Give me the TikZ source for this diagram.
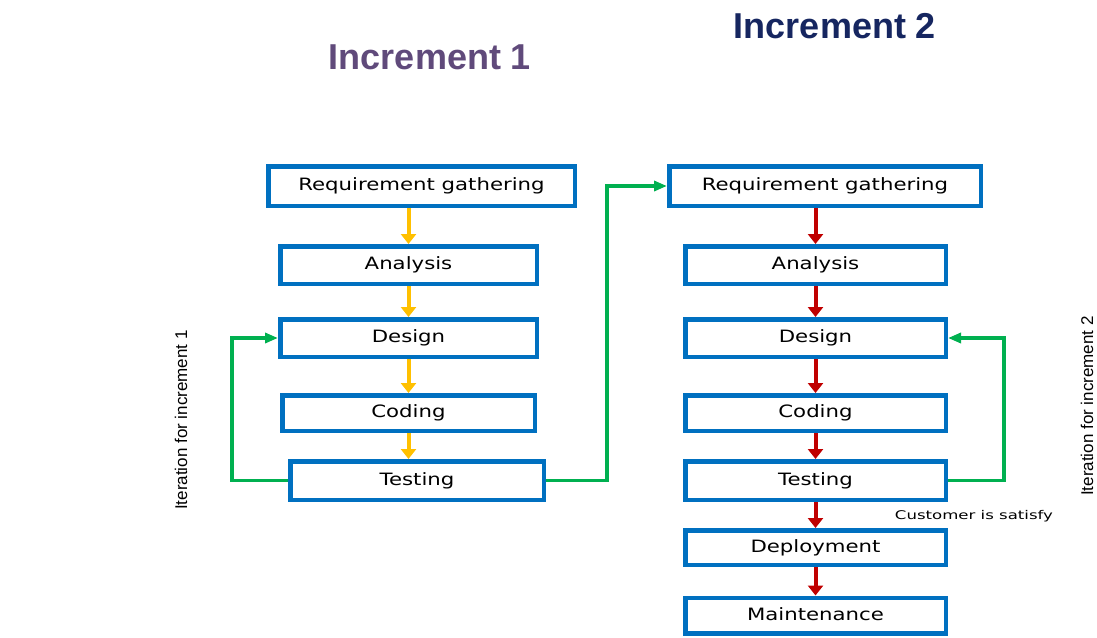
\documentclass[tikz,border=0pt]{standalone}
\usepackage{fontspec}
\setmainfont{Liberation Sans}
\newfontfamily\boxfont{DejaVu Sans}
\usetikzlibrary{arrows.meta}
\definecolor{boxblue}{RGB}{0,112,192}
\definecolor{arryellow}{RGB}{255,192,0}
\definecolor{arrred}{RGB}{192,0,0}
\definecolor{loopgreen}{RGB}{0,176,80}
\definecolor{titlepurple}{RGB}{96,74,123}
\definecolor{titlenavy}{RGB}{22,38,96}
\newcommand{\bxt}[1]{\scalebox{1.25}[1]{#1}}
\begin{document}
\begin{tikzpicture}[x=1pt,y=-1pt,
  stage/.style={draw=boxblue, line width=4.5pt, fill=white, inner sep=0pt,
    font=\boxfont\fontsize{17}{20}\selectfont, text height=12.4pt, text depth=3pt},
  yarrow/.style={draw=arryellow, line width=4pt, -{Triangle[width=15pt,length=10pt]}},
  rarrow/.style={draw=arrred, line width=4pt, -{Triangle[width=15pt,length=10pt]}},
  garrow/.style={draw=loopgreen, line width=3.5pt, -{Triangle[width=10pt,length=13pt]}},
  title/.style={font=\bfseries\fontsize{36}{40}\selectfont, inner sep=0pt},
  sidelabel/.style={rotate=90, font=\fontsize{17}{20}\selectfont, inner sep=0pt}
]
\useasboundingbox (0,0) rectangle (1097,637);
\fill[white] (0,0) rectangle (1097,637);

% titles
\node[title, text=titlepurple] (t1) at (430,57) {Increment 1};
\node[title, text=titlenavy] (t2) at (835,26) {Increment 2};

% increment 1
\node[stage, minimum width=306.5pt, minimum height=39.5pt] (req1) at (421.5,186) {\bxt{Requirement gathering}};
\node[stage, minimum width=256.5pt, minimum height=37.5pt] (ana1) at (408.5,265) {\bxt{Analysis}};
\node[stage, minimum width=256.5pt, minimum height=37.5pt] (des1) at (408.5,338) {\bxt{Design}};
\node[stage, minimum width=252.5pt, minimum height=35.5pt] (cod1) at (408.5,413) {\bxt{Coding}};
\node[stage, minimum width=253.5pt, minimum height=38.5pt] (tes1) at (417,480.5) {\bxt{Testing}};

\draw[yarrow] (ana1.north |- req1.south) -- (ana1.north);
\draw[yarrow] (ana1.south) -- (des1.north);
\draw[yarrow] (des1.south) -- (cod1.north);
\draw[yarrow] (cod1.south) -- (cod1.south |- tes1.north);

% increment 2
\node[stage, minimum width=311.5pt, minimum height=39.5pt] (req2) at (825,186) {\bxt{Requirement gathering}};
\node[stage, minimum width=260.5pt, minimum height=37.5pt] (ana2) at (815.5,265) {\bxt{Analysis}};
\node[stage, minimum width=260.5pt, minimum height=37.5pt] (des2) at (815.5,338) {\bxt{Design}};
\node[stage, minimum width=260.5pt, minimum height=35.5pt] (cod2) at (815.5,413) {\bxt{Coding}};
\node[stage, minimum width=260.5pt, minimum height=38.5pt] (tes2) at (815.5,480.5) {\bxt{Testing}};
\node[stage, minimum width=260.5pt, minimum height=34.5pt] (dep) at (815.5,547.5) {\bxt{Deployment}};
\node[stage, minimum width=260.5pt, minimum height=35.5pt] (mai) at (815.5,615.5) {\bxt{Maintenance}};

\draw[rarrow] (ana2.north |- req2.south) -- (ana2.north);
\draw[rarrow] (ana2.south) -- (des2.north);
\draw[rarrow] (des2.south) -- (cod2.north);
\draw[rarrow] (cod2.south) -- (tes2.north);
\draw[rarrow] (tes2.south) -- (dep.north);
\draw[rarrow] (dep.south) -- (mai.north);

% loops
\draw[garrow] (tes1.west) -- ([xshift=-56pt]tes1.west) |- (des1.west);
\draw[garrow] (tes1.east) -- ([xshift=61pt]tes1.east) |- (req2.west);
\draw[garrow] (tes2.east) -- ([xshift=56pt]tes2.east) |- (des2.east);

% labels
\node[fill=white, inner xsep=4pt, inner ysep=3pt, font=\boxfont\fontsize{12}{14}\selectfont] (cust) at (974,516) {\scalebox{1.38}[1]{Customer is satisfy}};
\node[sidelabel] (it1) at (181,420) {Iteration for increment 1};
\node[sidelabel] (it2) at (1087,406) {Iteration for increment 2};
\end{tikzpicture}
\end{document}
